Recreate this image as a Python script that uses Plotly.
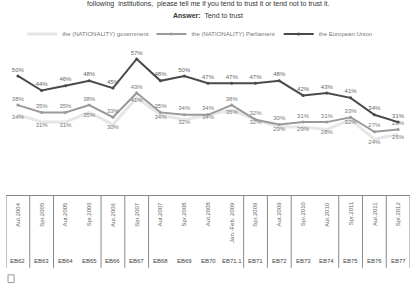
import plotly.graph_objects as go

waves = ["EB62", "EB63", "EB64", "EB65", "EB66", "EB67", "EB68", "EB69", "EB70",
         "EB71.1", "EB71", "EB72", "EB73", "EB74", "EB75", "EB76", "EB77"]
dates = ["Aut.2004", "Spr.2005", "Aut.2005", "Spr.2006", "Aut.2006", "Spr.2007",
         "Aut.2007", "Spr.2008", "Aut.2008", "Jan.-Feb. 2009", "Spr.2009", "Aut.2009",
         "Spr.2010", "Aut.2010", "Spr.2011", "Aut.2011", "Spr.2012"]
government = [34, 31, 31, 35, 30, 41, 34, 32, 34, 36, 32, 29, 29, 28, 32, 24, 26]
parliament = [38, 35, 35, 38, 33, 43, 35, 34, 34, 38, 32, 30, 31, 31, 33, 27, 28]
european_union = [50, 44, 46, 48, 45, 57, 48, 50, 47, 47, 47, 48, 42, 43, 41, 34, 31]
separators_after = [0, 1, 3, 4, 5, 9, 10, 11, 13, 14, 15]

FONT = "Arial"
x = list(range(len(waves)))

fig = go.Figure()
fig.add_trace(go.Scatter(
    x=x, y=government, name="the (NATIONALITY) government", legend="legend",
    mode="lines+text", line=dict(color="#e6e6e6", width=3),
    text=[f"{v}%" for v in government], textposition="bottom center",
    textfont=dict(size=6, color="#777777", family=FONT)))
fig.add_trace(go.Scatter(
    x=x, y=parliament, name="the (NATIONALITY) Parliament", legend="legend2",
    mode="lines+markers+text", line=dict(color="#9a9a9a", width=2),
    marker=dict(size=3, color="#9a9a9a"),
    text=[f"{v}%" for v in parliament], textposition="top center",
    textfont=dict(size=6, color="#777777", family=FONT)))
fig.add_trace(go.Scatter(
    x=x, y=european_union, name="the European Union", legend="legend3",
    mode="lines+markers+text", line=dict(color="#4a4a4a", width=2),
    marker=dict(size=3, color="#4a4a4a"),
    text=[f"{v}%" for v in european_union], textposition="top center",
    textfont=dict(size=6, color="#666666", family=FONT)))

shapes = []
table_bottom = -0.47
for s in [-1] + separators_after + [len(waves) - 1]:
    shapes.append(dict(type="line", xref="x", yref="paper", x0=s + 0.5, x1=s + 0.5,
                       y0=0, y1=table_bottom, line=dict(color="#8a8a8a", width=1)))
shapes.append(dict(type="rect", xref="paper", yref="paper", x0=0.005, x1=0.02,
                   y0=-0.515, y1=-0.565, line=dict(color="#999999", width=1)))

annotations = [
    dict(text="following  institutions,  please tell me if you tend to trust it or tend not to trust it.",
         xref="paper", yref="paper", x=0.5, y=1.232, showarrow=False,
         font=dict(size=7, color="#333333", family=FONT), xanchor="center", yanchor="middle"),
    dict(text="<b>Answer:</b>  Tend to trust", xref="paper", yref="paper", x=0.5, y=1.161,
         showarrow=False, font=dict(size=7, color="#333333", family=FONT),
         xanchor="center", yanchor="middle"),
]
for i, (w, d) in enumerate(zip(waves, dates)):
    annotations.append(dict(text=d, xref="x", yref="paper", x=i, y=-0.03, textangle=-90,
                            showarrow=False, xanchor="center", yanchor="top",
                            font=dict(size=6, color="#666666", family=FONT)))
    annotations.append(dict(text=w, xref="x", yref="paper", x=i, y=-0.426,
                            showarrow=False, xanchor="center", yanchor="middle",
                            font=dict(size=6, color="#444444", family=FONT)))

leg_common = dict(orientation="h", yanchor="middle", xanchor="left", y=1.039,
                  font=dict(size=6, color="#777777", family=FONT),
                  bgcolor="rgba(0,0,0,0)", itemwidth=30)
fig.update_layout(
    width=414, height=291,
    margin=dict(l=6, r=4, t=40, b=96),
    paper_bgcolor="white", plot_bgcolor="white",
    font=dict(family=FONT, size=6, color="#555555"),
    showlegend=True,
    legend=dict(x=0.04, **leg_common),
    legend2=dict(x=0.36, **leg_common),
    legend3=dict(x=0.675, **leg_common),
    xaxis=dict(range=[-0.5, len(waves) - 0.5], showgrid=False, zeroline=False,
               showticklabels=False, ticks="", showline=True, linecolor="#888888",
               linewidth=1),
    yaxis=dict(range=[1, 64.8], showgrid=False, zeroline=False, showticklabels=False,
               ticks="", showline=False),
    shapes=shapes, annotations=annotations,
)

fig.write_html("out.html")
